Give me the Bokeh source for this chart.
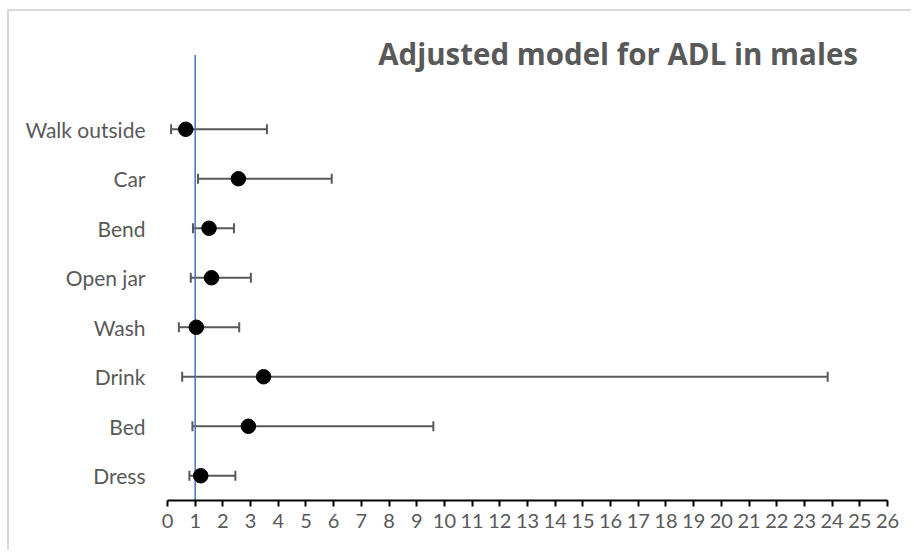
from bokeh.plotting import figure
from bokeh.models import (ColumnDataSource, Range1d, FixedTicker, Whisker, TeeHead, Label)
from bokeh.embed import file_html
from bokeh.resources import INLINE

# ---- data ----
categories = ["Dress", "Bed", "Drink", "Wash", "Open jar", "Bend", "Car", "Walk outside"]
estimate = [1.20, 2.92, 3.47, 1.04, 1.59, 1.50, 2.56, 0.66]
lower_ci = [0.79, 0.90, 0.53, 0.41, 0.84, 0.92, 1.10, 0.13]
upper_ci = [2.45, 9.60, 23.84, 2.59, 3.01, 2.40, 5.93, 3.59]
ref_x = [1, 1]
ref_y = [0, 9]
x_ticks = list(range(0, 27))
title_text = "Adjusted model for ADL in males"

ypos = [i + 0.5 for i in range(len(categories))]
src = ColumnDataSource(dict(y=ypos, est=estimate, lo=lower_ci, hi=upper_ci, cat=categories))

GRAY = "#595959"

p = figure(width=904, height=541, output_backend="svg", toolbar_location=None,
           x_range=Range1d(0, 26), y_range=Range1d(0, 9.677),
           min_border_left=158, min_border_right=26, min_border_top=10, min_border_bottom=52)
p.styles = {"border-left": "2px solid #d9d9d9", "border-top": "2px solid #d9d9d9",
            "margin-left": "7px", "margin-top": "9px"}
p.outline_line_color = None
p.xgrid.visible = False
p.ygrid.visible = False

# reference line
p.line(ref_x, ref_y, line_color="#4472C4", line_width=1.5)

# error bars
w = Whisker(source=src, base="y", lower="lo", upper="hi", dimension="width",
            line_color=GRAY, line_width=2,
            lower_head=TeeHead(size=10, line_color=GRAY, line_width=2),
            upper_head=TeeHead(size=10, line_color=GRAY, line_width=2))
p.add_layout(w)

p.scatter("est", "y", source=src, size=14.5, fill_color="black", line_color="black")

# x axis
p.xaxis.ticker = FixedTicker(ticks=x_ticks)
p.xaxis.axis_line_color = "black"
p.xaxis.axis_line_width = 2
p.xaxis.major_tick_line_color = "black"
p.xaxis.major_tick_line_width = 2
p.xaxis.major_tick_in = 0
p.xaxis.major_tick_out = 6
p.xaxis.minor_tick_line_color = None
p.xaxis.major_label_text_font = "Lato"
p.xaxis.major_label_text_font_size = "20px"
p.xaxis.major_label_text_color = GRAY
p.xaxis.major_label_standoff = 7

# y axis (categories)
p.yaxis.ticker = FixedTicker(ticks=ypos)
p.yaxis.major_label_overrides = {y: c for y, c in zip(ypos, categories)}
p.yaxis.axis_line_color = None
p.yaxis.major_tick_line_color = None
p.yaxis.minor_tick_line_color = None
p.yaxis.major_label_text_font = "Lato"
p.yaxis.major_label_text_font_size = "21px"
p.yaxis.major_label_text_color = GRAY
p.yaxis.major_label_standoff = 16

p.add_layout(Label(x=16.27, y=9.04, text=title_text, text_align="center",
                   text_baseline="alphabetic", text_font="Open Sans", text_font_style="bold",
                   text_font_size="29.5px", text_color=GRAY))

open("out.html", "w").write(file_html(p, INLINE))
